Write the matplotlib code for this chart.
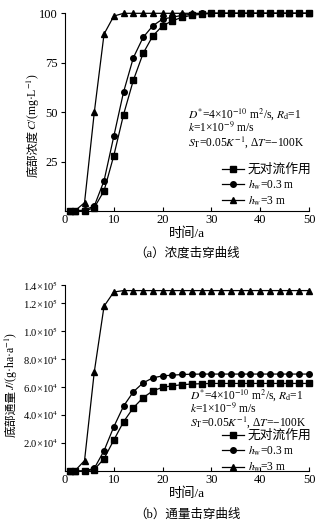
import matplotlib
matplotlib.use("Agg")
import matplotlib.pyplot as plt

plt.rcParams['font.family'] = ['Liberation Serif', 'Noto Sans CJK SC']
plt.rcParams['mathtext.fontset'] = 'stix'
plt.rcParams['font.size'] = 8

# time points (a)
t = [1, 2, 4, 6, 8, 10, 12, 14, 16, 18, 20, 22, 24, 26, 28, 30, 32, 34, 36, 38, 40, 42, 44, 46, 48, 50]

# (a) bottom concentration C (mg/L)
c_none = [0, 0, 0, 1.7, 10.2, 28, 48.8, 66.1, 79.7, 88.6, 93.7, 96.2, 98, 99, 99.5,
          100, 100, 100, 100, 100, 100, 100, 100, 100, 100, 100]
c_03 = [0, 0, 0.5, 2.5, 15.3, 37.8, 60.2, 77.5, 87.8, 93.7, 97.1, 98, 99, 99.5, 100,
        100, 100, 100, 100, 100, 100, 100, 100, 100, 100, 100]
c_3 = [0, 0, 4.2, 49.9, 89.5, 98.6, 100, 100, 100, 100, 100, 100, 100, 100, 100,
       100, 100, 100, 100, 100, 100, 100, 100, 100, 100, 100]

# (b) bottom flux J (g/(ha.a))
j_none = [0, 0, 0, 1000, 8800, 22100, 35200, 45200, 52400, 57300, 59800, 60900, 61700,
          62200, 62400, 62600, 62600, 62600, 62600, 62600, 62600, 62600, 62600, 62600, 62600, 62600]
j_03 = [0, 0, 0, 1900, 14500, 31600, 46400, 56600, 63000, 66600, 68000, 68500, 69000,
        69200, 69300, 69300, 69300, 69300, 69300, 69300, 69300, 69300, 69300, 69300, 69300, 69300]
j_3 = [0, 0, 7400, 70900, 117800, 128000, 129000, 129000, 129000, 129000, 129000, 129000, 129000,
       129000, 129000, 129000, 129000, 129000, 129000, 129000, 129000, 129000, 129000, 129000, 129000, 129000]

labels = ['无对流作用', r'$h_{\rm w}$=0.3 m', r'$h_{\rm w}$=3 m']
markers = ['s', 'o', '^']

xticks = [0, 10, 20, 30, 40, 50]
c_ticks = [25, 50, 75, 100]
j_ticks = [2e4, 4e4, 6e4, 8e4, 1e5, 1.2e5, 1.33e5]
j_ticklabels = [r'2.0×10$^4$', r'4.0×10$^4$', r'6.0×10$^4$', r'8.0×10$^4$',
                r'1.0×10$^5$', r'1.2×10$^5$', r'1.4×10$^5$']

params = [r'$D^{*}$=4×10$^{-10}$ m$^2$/s, $R_{\rm d}$=1',
          r'$k$=1×10$^{-9}$ m/s',
          r'$S_{\rm T}$=0.05$K^{-1}$, Δ$T$=−100K']

fig = plt.figure(figsize=(3.27, 5.26), dpi=100)
ax1 = fig.add_axes([0.1988, 0.5989, 0.7462, 0.3758])
ax2 = fig.add_axes([0.1988, 0.1046, 0.7462, 0.3536])


def style(ax):
    ax.spines['top'].set_visible(False)
    ax.spines['right'].set_visible(False)
    ax.spines['left'].set_linewidth(0.8)
    ax.spines['bottom'].set_linewidth(0.8)
    ax.set_xlim(0, 50)
    ax.set_xticks(xticks)
    ax.tick_params(axis='x', direction='in', length=3, width=0.8, pad=2, labelsize=9)
    ax.tick_params(axis='y', direction='out', length=3, width=0.8, pad=2, labelsize=9)
    ax.set_xlabel('时间/a', fontsize=9.5, labelpad=1)


for ax, series in [(ax1, [c_none, c_03, c_3]), (ax2, [j_none, j_03, j_3])]:
    for y, m, lab in zip(series, markers, labels):
        ax.plot(t, y, color='black', lw=0.9, marker=m, ms=4, label=lab, clip_on=False)
    style(ax)

ax1.set_ylim(0, 100)
ax1.set_yticks(c_ticks)

ax2.set_ylim(0, 133000)
ax2.set_yticks(j_ticks)
ax2.set_yticklabels(j_ticklabels)
ax2.tick_params(axis='y', labelsize=7.6)

# y labels: Chinese part and symbol part as two rotated texts
for x, yj, zh, sym in [(33, 130, '底部浓度', r'$C$/(mg·L$^{-1}$)'),
                       (11, 390, '底部通量', r'$J$/(g·ha·a$^{-1}$)')]:
    fig.text(x / 327, 1 - yj / 526, zh, rotation=90, ha='center', va='top', fontsize=8.5)
    fig.text(x / 327, 1 - yj / 526, sym, rotation=90, ha='center', va='bottom', fontsize=8.5)

for ax, x0, ytop, ly in [(ax1, 0.504, 0.528, 0.24),
                         (ax2, 0.512, 0.452, 0.222)]:
    ax.text(x0, ytop, '\n'.join(params), transform=ax.transAxes, fontsize=8.3,
            va='top', ha='left', linespacing=0.88)
    leg = ax.legend(loc='upper left', bbox_to_anchor=(0.645, ly), frameon=False, fontsize=8.3,
                    handlelength=1.9, handletextpad=0.3, borderpad=0, borderaxespad=0,
                    labelspacing=0.22)
    leg.get_texts()[0].set_fontsize(9.2)

fig.text(0.572, 1 - 253 / 526, '（a）浓度击穿曲线', ha='center', va='center', fontsize=9)
fig.text(0.572, 1 - 515 / 526, '（b）通量击穿曲线', ha='center', va='center', fontsize=9)

fig.savefig('out.png', dpi=100)
